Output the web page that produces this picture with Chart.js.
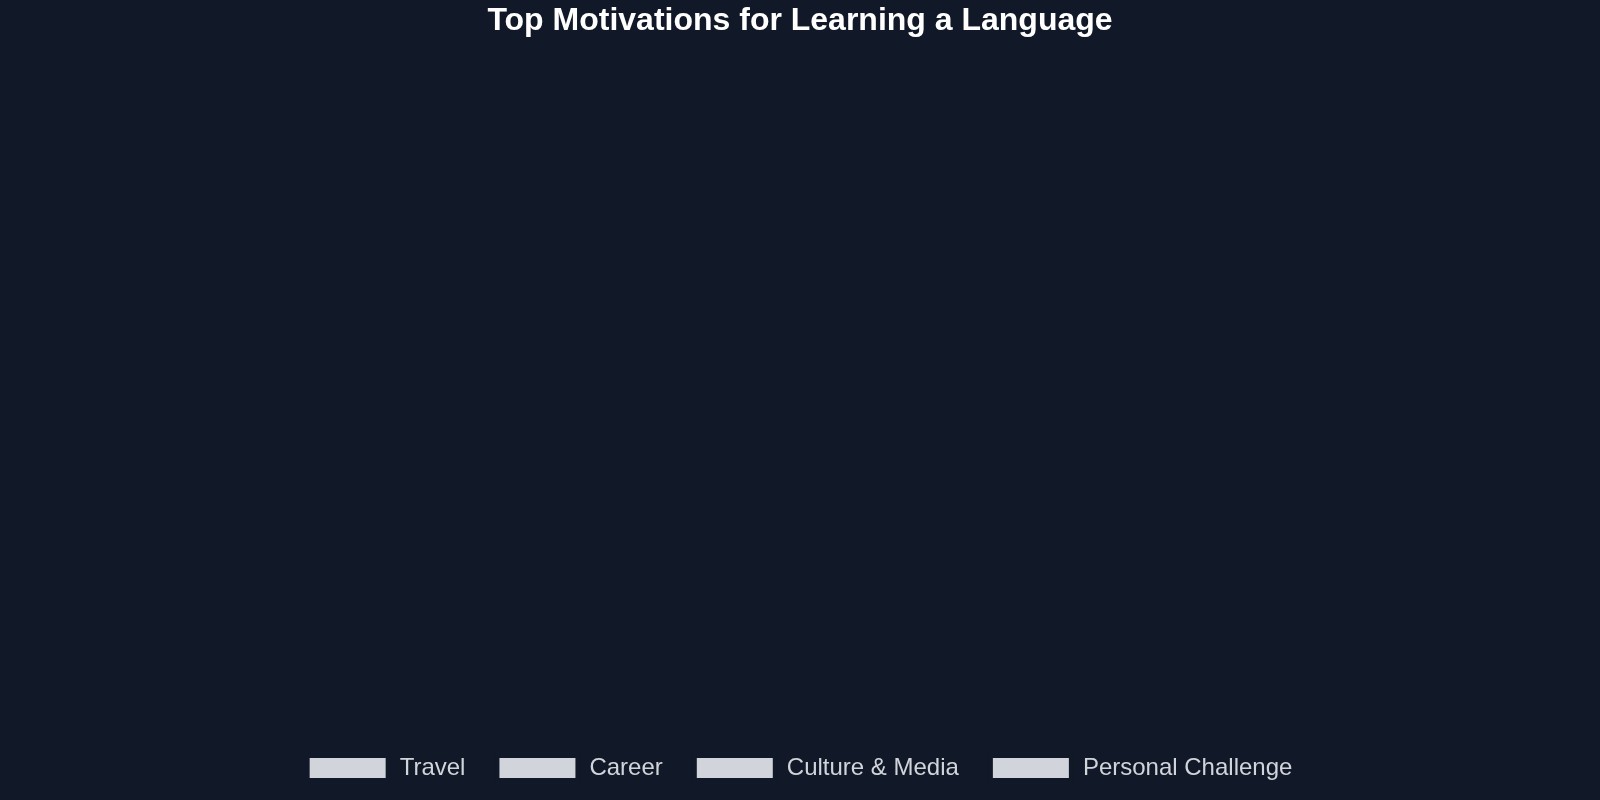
<!DOCTYPE html>
<html>
<head>
<meta charset="utf-8">
<script src="https://cdn.jsdelivr.net/npm/chart.js@4/dist/chart.umd.min.js"></script>
<style>
  html, body { margin: 0; padding: 0; background: #111827; overflow: hidden; }
  #wrap { width: 1600px; height: 800px; position: relative; }
</style>
</head>
<body>
<div id="wrap"><canvas id="c"></canvas></div>
<script>
const titleText = 'Top Motivations for Learning a Language';
const categories = [];
const seriesNames = ['Travel', 'Career', 'Culture & Media', 'Personal Challenge'];
const travelValues = [];
const careerValues = [];
const cultureValues = [];
const challengeValues = [];
const seriesValues = [travelValues, careerValues, cultureValues, challengeValues];

Chart.defaults.color = '#d1d5db';
Chart.defaults.font.family = '"Liberation Sans", Arial, Helvetica, sans-serif';

new Chart(document.getElementById('c'), {
  type: 'bar',
  data: {
    labels: categories,
    datasets: seriesNames.map((name, i) => ({
      label: name,
      data: seriesValues[i],
      backgroundColor: '#d1d5db',
      borderColor: '#111827',
      borderWidth: 4
    }))
  },
  options: {
    responsive: true,
    maintainAspectRatio: false,
    animation: false,
    layout: { padding: { top: 0, left: 0, right: 0, bottom: 10 } },
    scales: { x: { display: false }, y: { display: false } },
    plugins: {
      title: {
        display: true,
        text: titleText,
        color: '#ffffff',
        font: { size: 32, weight: 'bold' },
        padding: { top: 2, bottom: 10 }
      },
      legend: {
        position: 'bottom',
        labels: {
          color: '#d1d5db',
          font: { size: 24 },
          boxWidth: 80,
          padding: 32
        }
      },
      tooltip: { enabled: false }
    }
  }
});
</script>
</body>
</html>
